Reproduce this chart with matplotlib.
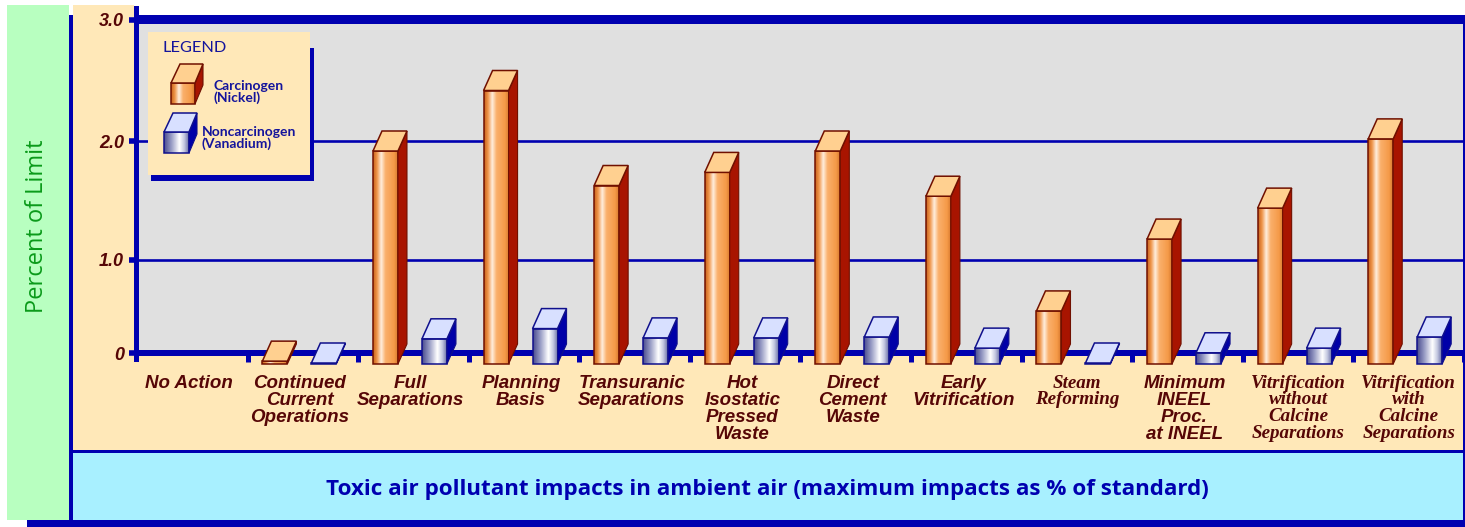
import numpy as np
import matplotlib
matplotlib.use("Agg")
import matplotlib.pyplot as plt
from matplotlib.colors import LinearSegmentedColormap
from matplotlib.patches import Polygon, Rectangle
from matplotlib.transforms import ScaledTranslation

# Alternatives and measured impacts
categories = ["No Action", "Continued\nCurrent\nOperations", "Full\nSeparations", "Planning\nBasis",
              "Transuranic\nSeparations", "Hot\nIsostatic\nPressed\nWaste", "Direct\nCement\nWaste",
              "Early\nVitrification", "Steam\nReforming", "Minimum\nINEEL\nProc.\nat INEEL",
              "Vitrification\nwithout\nCalcine\nSeparations", "Vitrification\nwith\nCalcine\nSeparations"]
serif_labels = [8, 10, 11]
nickel = [np.nan, 0.02, 2.00, 2.50, 1.71, 1.82, 2.00, 1.62, 0.56, 1.26, 1.52, 2.10]
vanadium = [np.nan, 0.0, 0.26, 0.37, 0.27, 0.27, 0.28, 0.16, 0.0, 0.11, 0.16, 0.28]
value_ticks = [0, 1, 2, 3]
value_tick_labels = ["0", "1.0", "2.0", "3.0"]

W, H = 1465, 527
NAVY = "#0000b0"
MAROON = "#560606"
GREEN = "#0a9a1a"
TAN = "#ffe8b8"

fig = plt.figure(figsize=(W / 100, H / 100), dpi=100, facecolor="white")

# Background layer, addressed in pixels
bg = fig.add_axes([0, 0, 1, 1], zorder=0)
bg.set_xlim(0, W)
bg.set_ylim(H, 0)
bg.axis("off")


def block(a, x0, y0, x1, y1, color, z=1):
    a.add_patch(Rectangle((x0, y0), x1 - x0, y1 - y0, fc=color, ec="none", zorder=z))


block(bg, 7, 5, 69, 520, "#b8ffc0")
block(bg, 73, 5, 134, 451, TAN)
block(bg, 134, 356, 1463, 451, TAN)
block(bg, 139, 24, 1465, 350, "#e0e0e0")
block(bg, 73, 453, 1463, 520, "#a8f0ff")
block(bg, 69, 15, 73, 527, NAVY, 3)
block(bg, 73, 450, 1465, 453, NAVY, 3)
block(bg, 27, 520, 1465, 527, NAVY, 3)
block(bg, 1463, 15, 1465, 527, NAVY, 3)
block(bg, 139, 15, 1465, 24, NAVY, 3)
block(bg, 134, 6, 139, 362, NAVY, 3)
block(bg, 134, 350, 1465, 356, NAVY, 3)

# Value axis: the printed scale is not evenly spaced
px_from_value = np.array([0.0, 93.0, 212.0, 333.0])


def forward(v):
    return np.interp(v, value_ticks, px_from_value)


def inverse(p):
    return np.interp(p, px_from_value, value_ticks)


ax = fig.add_axes([137 / W, 1 - 353 / H, (1464 - 137) / W, 333 / H], zorder=2)
ax.patch.set_alpha(0)
ax.set_yscale("function", functions=(forward, inverse))
ax.set_xlim(-0.5, 11.5)
ax.set_ylim(0, 3)
for s in ax.spines.values():
    s.set_visible(False)

ax.set_yticks(value_ticks, value_tick_labels)
ax.yaxis.set_minor_locator(matplotlib.ticker.NullLocator())
ax.tick_params(axis="y", length=6, width=4, color=NAVY, pad=3.5, labelsize=13, labelcolor=MAROON)
for lab in ax.get_yticklabels():
    lab.set_family("Liberation Sans")
    lab.set_fontweight("bold")
    lab.set_fontstyle("italic")

ax.hlines([1, 2], -0.5, 11.5, color=NAVY, lw=1.9, zorder=1)

ax.set_xticks(np.arange(12), categories)
ax.set_xticks(np.arange(0, 12) + 0.5, minor=True)
ax.tick_params(axis="x", which="major", length=0, pad=15.5)
ax.tick_params(axis="x", which="minor", length=6.5, width=3.6, color=NAVY)
shift = ScaledTranslation(-3 / 100, 0, fig.dpi_scale_trans)
for i, lab in enumerate(ax.get_xticklabels()):
    lab.set_color(MAROON)
    if i in serif_labels:
        lab.set_family("Liberation Serif")
        lab.set_fontsize(13.7)
        lab.set_linespacing(0.99)
    else:
        lab.set_transform(lab.get_transform() + shift)
        lab.set_family("Liberation Sans")
        lab.set_fontsize(13.5)
        lab.set_linespacing(1.0)
    lab.set_fontweight("bold")
    lab.set_fontstyle("italic")

# Foreground layer for the extruded columns and the key
ov = fig.add_axes([0, 0, 1, 1], zorder=3)
ov.patch.set_alpha(0)
ov.axis("off")

orange_face = LinearSegmentedColormap.from_list(
    "orange_face", [(0, "#c9621c"), (0.15, "#ee9448"), (0.33, "#ffeedd"), (0.5, "#fab06c"),
                    (0.85, "#f59a48"), (1, "#d87a30")])
blue_face = LinearSegmentedColormap.from_list(
    "blue_face", [(0, "#4a4c90"), (0.3, "#9a9ec6"), (0.62, "#ffffff"), (0.82, "#c4c8e0"), (1, "#6a70a8")])
ORANGE = dict(cmap=orange_face, top="#ffd090", side="#a81400", edge="#701000")
BLUE = dict(cmap=blue_face, top="#d8e0ff", side="#0000a8", edge="#10108c")
ramp = np.linspace(0, 1, 64).reshape(1, -1)


def column(x0, x1, ytop, ybase, style, dx=9, dy=20):
    """Draw one extruded column from its front face, in pixel coordinates."""
    if ybase - ytop > 0:
        ov.imshow(ramp, cmap=style["cmap"], extent=(x0, x1, ybase, ytop), aspect="auto", zorder=5,
                  interpolation="bilinear")
        ov.add_patch(Rectangle((x0, ytop), x1 - x0, ybase - ytop, fc="none", ec=style["edge"], lw=1.1, zorder=6))
        ov.add_patch(Polygon([(x1, ytop), (x1 + dx, ytop - dy), (x1 + dx, ybase - dy), (x1, ybase)],
                             fc=style["side"], ec=style["edge"], lw=0.8, zorder=6))
    ov.add_patch(Polygon([(x0, ytop), (x0 + dx, ytop - dy), (x1 + dx, ytop - dy), (x1, ytop)],
                         fc=style["top"], ec=style["edge"], lw=1.1, zorder=7))


def draw_series(values, left, style):
    for i, v in enumerate(values):
        if np.isnan(v):
            continue
        xa, ym = ax.transData.transform((i + left, v))
        xb, _ = ax.transData.transform((i + left + 0.226, v))
        _, y0 = ax.transData.transform((i, 0))
        column(xa, xb, H - ym + 10, H - y0 + 11, style)


draw_series(nickel, -0.366, ORANGE)
draw_series(vanadium, 0.077, BLUE)

# Key
block(ov, 151, 48, 314, 181, NAVY, 8)
block(ov, 148, 32, 310, 175, TAN, 9)
ov.text(162, 48, "LEGEND", color="#14149c", fontsize=11.8, family="Lato", va="center", zorder=10)
ov.imshow(ramp, cmap=orange_face, extent=(171, 195, 104, 83), aspect="auto", zorder=10)
ov.add_patch(Rectangle((171, 83), 24, 21, fc="none", ec=ORANGE["edge"], lw=1.1, zorder=11))
ov.add_patch(Polygon([(195, 83), (203, 64), (203, 85), (195, 104)], fc=ORANGE["side"], ec=ORANGE["edge"], lw=0.8, zorder=11))
ov.add_patch(Polygon([(171, 83), (180, 64), (203, 64), (195, 83)], fc=ORANGE["top"], ec=ORANGE["edge"], lw=1.1, zorder=11))
ov.imshow(ramp, cmap=blue_face, extent=(164, 189, 153, 132), aspect="auto", zorder=10)
ov.add_patch(Rectangle((164, 132), 25, 21, fc="none", ec=BLUE["edge"], lw=1.1, zorder=11))
ov.add_patch(Polygon([(189, 132), (197, 113), (197, 134), (189, 153)], fc=BLUE["side"], ec=BLUE["edge"], lw=0.8, zorder=11))
ov.add_patch(Polygon([(164, 132), (173, 113), (197, 113), (189, 132)], fc=BLUE["top"], ec=BLUE["edge"], lw=1.1, zorder=11))
ov.text(214, 92, "Carcinogen\n(Nickel)", color="#14149c", fontsize=10, family="Lato", fontweight="bold",
        va="center", linespacing=0.9, zorder=12)
ov.text(202, 138, "Noncarcinogen\n(Vanadium)", color="#14149c", fontsize=10, family="Lato", fontweight="bold",
        va="center", linespacing=0.9, zorder=12)

# Panel captions
ov.text(37, 226, "Percent of Limit", rotation=90, color=GREEN, fontsize=17, family="Open Sans",
        ha="center", va="center", zorder=12)
ov.text(767, 490, "Toxic air pollutant impacts in ambient air (maximum impacts as % of standard)",
        color=NAVY, fontsize=16.1, family="Open Sans", fontweight="bold", ha="center", va="center", zorder=12)

ov.set_xlim(0, W)
ov.set_ylim(H, 0)

fig.savefig("out.png", dpi=100)
